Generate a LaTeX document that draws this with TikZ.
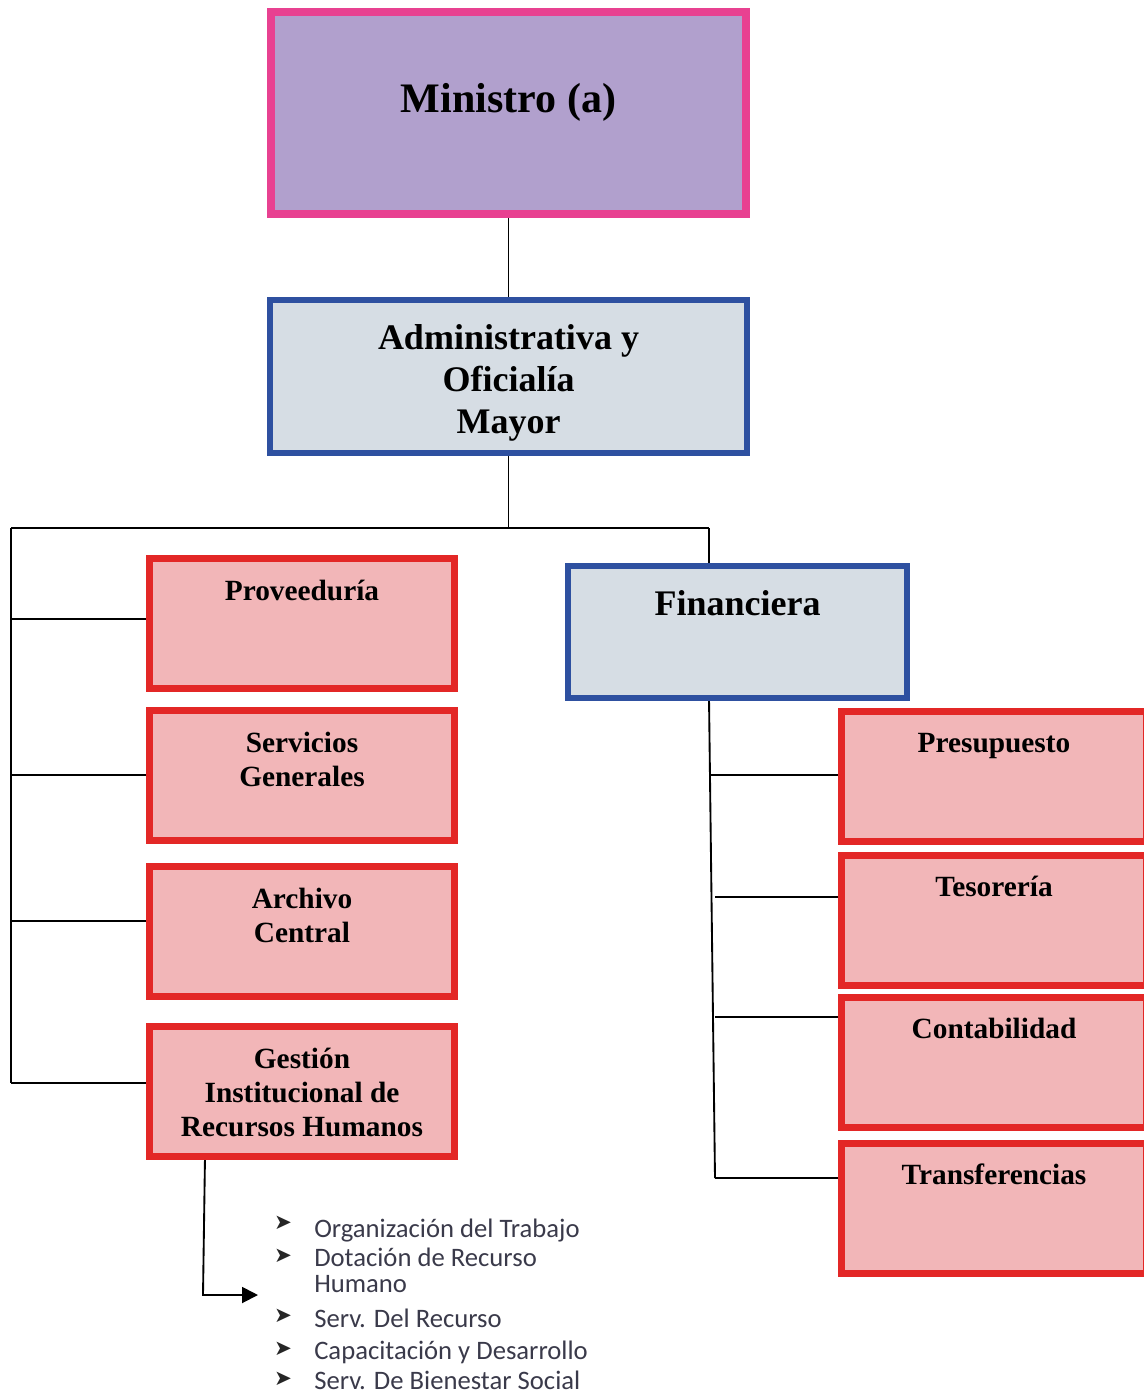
\documentclass[tikz,border=0pt]{standalone}
\usepackage{fontspec}
\setmainfont{Liberation Serif}
\newfontfamily\bulfont{Carlito}
\newfontfamily\symfont{DejaVu Sans}
\usetikzlibrary{arrows.meta}
\definecolor{pinkb}{RGB}{232,65,145}
\definecolor{purplef}{RGB}{177,160,205}
\definecolor{blueb}{RGB}{46,80,160}
\definecolor{grayf}{RGB}{214,221,228}
\definecolor{redb}{RGB}{227,39,38}
\definecolor{pinkf}{RGB}{242,182,184}
\definecolor{listc}{RGB}{58,58,74}
\pgfdeclarelayer{bg}
\pgfsetlayers{bg,main}
\begin{document}
\begin{tikzpicture}[x=0.75pt,y=-0.75pt,
  box/.style={rectangle, inner sep=0pt, outer sep=0pt},
  minbox/.style={box, draw=pinkb, fill=purplef, line width=6pt, minimum width=356.25pt, minimum height=151.5pt},
  bluebox/.style={box, draw=blueb, fill=grayf, line width=4.5pt},
  redbox/.style={box, draw=redb, fill=pinkf, line width=5.25pt, minimum width=228.75pt, minimum height=97.5pt},
  bigtxt/.style={font=\bfseries\fontsize{31.5}{36}\selectfont, inner sep=0pt},
  midtxt/.style={font=\bfseries\fontsize{27}{31.5}\selectfont, inner sep=0pt, align=center},
  redtxt/.style={font=\bfseries\fontsize{22}{25.5}\selectfont, inner sep=0pt, align=center},
  listtxt/.style={font=\bulfont\fontsize{20}{20}\selectfont, text=listc, inner sep=0pt, align=left},
  bul/.style={font=\symfont\fontsize{16}{16}\selectfont, text=black!85, inner sep=0pt},
  conn/.style={line width=1.4pt, draw=black}]
\useasboundingbox (0,0) rectangle (1144,1395);
\clip (0,0) rectangle (1144,1395);

% boxes
\node[minbox] (min) at (508.5,113) {};
\node[bigtxt, anchor=base] (tmin) at (508.5,113) {Ministro (a)};

\node[bluebox, minimum width=357.75pt, minimum height=114.75pt] (adm) at (508.5,376.5) {};
\node[midtxt] (tadm) at (508.5,382.5) {Administrativa y\\Oficialía\\Mayor};

\node[bluebox, minimum width=254.25pt, minimum height=99pt] (fin) at (737.5,632) {};
\node[midtxt, anchor=base] (tfin) at (737.5,615) {Financiera};

\node[redbox] (prov) at (302,623.5) {};
\node[redtxt, anchor=base] (tprov) at (302,600) {Proveeduría};
\node[redbox] (serv) at (302,775.5) {};
\node[redtxt] (tserv) at (302,759) {Servicios\\Generales};
\node[redbox] (arch) at (302,931.5) {};
\node[redtxt] (tarch) at (302,915) {Archivo\\Central};
\node[redbox] (gest) at (302,1091.5) {};
\node[redtxt] (tgest) at (302,1092) {Gestión\\Institucional de\\Recursos Humanos};

\node[redbox] (pres) at (994,776) {};
\node[redtxt, anchor=base] (tpres) at (994,752) {Presupuesto};
\node[redbox] (teso) at (994,920) {};
\node[redtxt, anchor=base] (tteso) at (994,896) {Tesorería};
\node[redbox] (cont) at (994,1062) {};
\node[redtxt, anchor=base] (tcont) at (994,1038) {Contabilidad};
\node[redbox] (tran) at (994,1208) {};
\node[redtxt, anchor=base] (ttran) at (994,1184) {Transferencias};

% list
\node[bul] (b1) at (283,1223) {➤};
\node[listtxt, anchor=base west] (l1) at (314,1237) {Organización del Trabajo};
\node[bul] (b2) at (283,1256) {➤};
\node[listtxt, anchor=base west] (l2) at (314,1266) {Dotación de Recurso};
\node[listtxt, anchor=base west] (l2b) at (314,1292) {Humano};
\node[bul] (b3) at (283,1316) {➤};
\node[listtxt, anchor=base west] (l3) at (314,1327) {Serv. Del Recurso};
\node[bul] (b4) at (283,1349) {➤};
\node[listtxt, anchor=base west] (l4) at (314,1359) {Capacitación y Desarrollo};
\node[bul] (b5) at (283,1379) {➤};
\node[listtxt, anchor=base west] (l5) at (314,1389) {Serv. De Bienestar Social};

% coordinates
\coordinate (busL) at (11,528);
\coordinate (busR) at (709,528);
\coordinate (bL1) at (11,619);
\coordinate (bL2) at (11,775);
\coordinate (bL3) at (11,921);
\coordinate (bL4) at (11,1083);
\coordinate (fB1) at (710,775);
\coordinate (fB2) at (715,897);
\coordinate (fB3) at (715,1017);
\coordinate (fB4) at (715,1178);
\coordinate (gx) at (205,0);
\coordinate (gB) at (203,1295);
\coordinate (gC) at (258,1295);

\begin{pgfonlayer}{bg}
\draw[conn] (min.south) -- (adm.north);
\draw[conn] (adm.south) -- (adm.south |- busL);
\draw[conn] (busL) -- (busR);
\draw[conn] (busR) -- (busR |- fin.north);
\draw[conn] (busL) -- (bL4);
\draw[conn] (bL1) -- (bL1 -| prov.west);
\draw[conn] (bL2) -- (bL2 -| serv.west);
\draw[conn] (bL3) -- (bL3 -| arch.west);
\draw[conn] (bL4) -- (bL4 -| gest.west);
\draw[conn] (fin.south -| busR) -- (fB4);
\draw[conn] (fB1) -- (fB1 -| pres.west);
\draw[conn] (fB2) -- (fB2 -| teso.west);
\draw[conn] (fB3) -- (fB3 -| cont.west);
\draw[conn] (fB4) -- (fB4 -| tran.west);
\draw[conn, -{Triangle[length=12pt,width=12pt]}] (gest.south -| gx) -- (gB) -- (gC);
\end{pgfonlayer}
\end{tikzpicture}
\end{document}
